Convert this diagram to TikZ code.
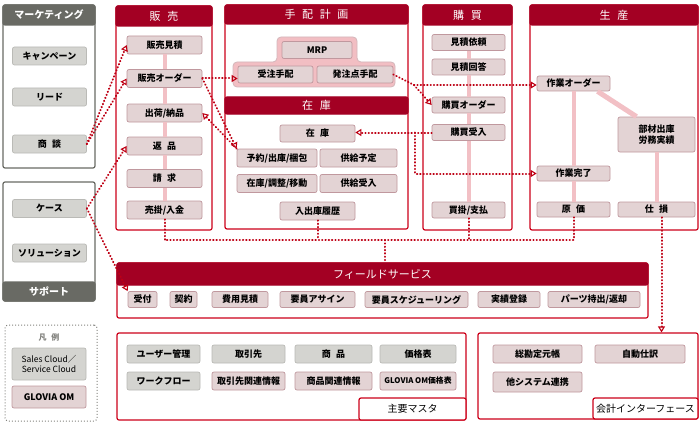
\documentclass[tikz,border=0pt]{standalone}
\usepackage{fontspec}
\setmainfont{Noto Sans CJK JP}
\usetikzlibrary{positioning, arrows.meta, calc}
\definecolor{headred}{RGB}{163, 0, 35}
\definecolor{linered}{RGB}{204, 0, 25}
\definecolor{dotred}{RGB}{190, 0, 20}
\definecolor{headgray}{RGB}{105, 106, 100}
\definecolor{gfill}{RGB}{212, 212, 208}
\definecolor{gline}{RGB}{186, 186, 182}
\definecolor{pfill}{RGB}{227, 211, 212}
\definecolor{pline}{RGB}{192, 152, 158}
\definecolor{flowpink}{RGB}{242, 192, 197}
\definecolor{mrppink}{RGB}{242, 190, 195}
\definecolor{legendgray}{RGB}{130, 130, 126}
\newcommand{\kspace}{\hspace{0.6em}}
\tikzset{
  panel/.style={
    draw=linered,
    line width=1.2pt,
    fill=white,
    rounded corners=2pt,
    inner sep=0pt
  },
  gpanel/.style={
    panel,
    draw=headgray
  },
  head/.style={
    draw=headred,
    fill=headred,
    line width=1.2pt,
    rounded corners=2pt,
    minimum height=20,
    inner sep=0pt,
    text=white,
    font=\fontsize{11}{13}\selectfont
  },
  ghead/.style={
    head,
    draw=headgray,
    fill=headgray,
    font=\bfseries\fontsize{10}{12}\selectfont
  },
  gbox/.style={
    draw=gline,
    fill=gfill,
    line width=0.7pt,
    rounded corners=2pt,
    minimum width=74,
    minimum height=18,
    inner sep=1pt,
    font=\bfseries\fontsize{9}{10.5}\selectfont
  },
  pbox/.style={
    gbox,
    draw=pline,
    fill=pfill
  },
  tabbox/.style={
    draw=linered,
    line width=1.2pt,
    fill=white,
    rounded corners=2pt,
    inner sep=0pt,
    font=\fontsize{10}{12}\selectfont
  },
  flow/.style={
    draw=flowpink,
    line width=4pt
  },
  dotlink/.style={
    draw=dotred,
    line width=2pt,
    line cap=round,
    dash pattern=on 0.4pt off 2.9pt
  },
  dotarrow/.style={
    dotlink,
    -{Triangle[open, length=6pt, width=7pt, line width=1.1pt]}
  }
}

\begin{document}
\begin{tikzpicture}[x=1pt, y=-1pt]
  \useasboundingbox (0,0) rectangle (700,433);

  % marketing / support / legend
  \node[gpanel, minimum width=92, minimum height=163] (mkt) at (49,86.5) {};
  \node[ghead, minimum width=92, anchor=north] (mkthd) at (mkt.north) {マーケティング};
  \node[gbox] (campaign) at (49.5,56) {キャンペーン};
  \node[gbox] (lead) at (49.5,97) {リード};
  \node[gbox] (shodan) at (49.5,144) {商\kspace 談};

  \node[gpanel, minimum width=92, minimum height=119] (sup) at (49,241.5) {};
  \node[ghead, minimum width=92, minimum height=19, anchor=south] (suphd) at (sup.south) {サポート};
  \node[gbox] (case) at (49.5,208.5) {ケース};
  \node[gbox] (solution) at (49.5,253) {ソリューション};

  \node[draw=legendgray, dotted, line width=1pt, rounded corners=3pt, minimum width=92, minimum height=96] (legend) at (51,373) {};
  \node[text=legendgray, font=\bfseries\fontsize{8}{9}\selectfont] (legendhd) at (49,337) {凡\kspace 例};
  \node[gbox, minimum height=32, align=center, font=\fontsize{8.5}{10}\selectfont] (sfdc) at (49,364) {Sales Cloud／\\Service Cloud};
  \node[pbox, minimum height=22] (glovia) at (49,397) {GLOVIA OM};

  % sales
  \node[panel, minimum width=96, minimum height=224] (sales) at (164,118) {};
  \node[head, minimum width=96, anchor=north] (saleshd) at (sales.north) {販\kspace 売};
  \node[pbox, minimum width=75] (mitsumori) at (164.5,45) {販売見積};
  \node[pbox, minimum width=75] (sorder) at (164.5,78.5) {販売オーダー};
  \node[pbox, minimum width=75] (shukka) at (164.5,113) {出荷/納品};
  \node[pbox, minimum width=75] (henpin) at (164.5,146) {返\kspace 品};
  \node[pbox, minimum width=75] (seikyu) at (164.5,178.5) {請\kspace 求};
  \node[pbox, minimum width=75] (urikake) at (164.5,210) {売掛/入金};

  % planning and stock
  \node[panel, minimum width=183, minimum height=224] (plan) at (316.5,117) {};
  \node[head, minimum width=183, minimum height=19, anchor=north] (planhd) at (plan.north) {手\kspace 配\kspace 計\kspace 画};
  \node[head, minimum width=183, minimum height=17] (stockhd) at (316.5,105.5) {在\kspace 庫};
  \draw[fill=mrppink, draw=pline!70, line width=0.8pt, rounded corners=4pt]
    (277,37) -- (357,37) -- (357,62) -- (395,62) -- (395,87) -- (233,87) -- (233,62) -- (277,62) -- cycle;
  \node[pbox, minimum width=70, minimum height=17] (mrp) at (317,50) {MRP};
  \node[pbox, minimum width=75, minimum height=17] (juchu) at (275.5,74.5) {受注手配};
  \node[pbox, minimum width=76, minimum height=17] (hatchu) at (355,74.5) {発注点手配};
  \node[pbox, minimum width=75, minimum height=17] (zaiko) at (317.5,133.5) {在\kspace 庫};
  \node[pbox, minimum width=80] (yoyaku) at (277,158) {予約/出庫/梱包};
  \node[pbox, minimum width=77] (yotei) at (358.5,158) {供給予定};
  \node[pbox, minimum width=80] (chosei) at (277,183.5) {在庫/調整/移動};
  \node[pbox, minimum width=77] (ukeire) at (358.5,183.5) {供給受入};
  \node[pbox, minimum width=75] (rireki) at (317.5,211) {入出庫履歴};

  % purchasing
  \node[panel, minimum width=89, minimum height=225] (purch) at (467.5,117.5) {};
  \node[head, minimum width=89, anchor=north] (purchhd) at (purch.north) {購\kspace 買};
  \node[pbox, minimum width=73, minimum height=16] (irai) at (468.5,42.5) {見積依頼};
  \node[pbox, minimum width=73, minimum height=16] (kaito) at (468.5,67) {見積回答};
  \node[pbox, minimum width=73, minimum height=16] (porder) at (468.5,105) {購買オーダー};
  \node[pbox, minimum width=73, minimum height=16] (pukeire) at (468.5,132.5) {購買受入};
  \node[pbox, minimum width=73, minimum height=16] (kaikake) at (468.5,210) {買掛/支払};

  % production
  \node[panel, minimum width=168, minimum height=225] (prod) at (614,117.5) {};
  \node[head, minimum width=168, anchor=north] (prodhd) at (prod.north) {生\kspace 産};
  \node[pbox, minimum width=73, minimum height=15] (worder) at (573.5,83.5) {作業オーダー};
  \node[pbox, minimum width=73, minimum height=15] (kanryo) at (573.5,173.5) {作業完了};
  \node[pbox, minimum width=73, minimum height=15] (genka) at (573.5,209.5) {原\kspace 価};
  \node[pbox, minimum width=77, minimum height=35, align=center] (buzai) at (656.5,134.5) {部材出庫\\労務実績};
  \node[pbox, minimum width=77, minimum height=15] (shison) at (656.5,209.5) {仕\kspace 損};

  % field service
  \node[panel, minimum width=531, minimum height=55] (fs) at (382.5,290.5) {};
  \node[head, minimum width=531, minimum height=22, anchor=north] (fshd) at (fs.north) {フィールドサービス};
  \node[pbox, minimum width=29, minimum height=16] (uketsuke) at (142.5,299.5) {受付};
  \node[pbox, minimum width=27, minimum height=16] (keiyaku) at (183.5,299.5) {契約};
  \node[pbox, minimum width=56, minimum height=16] (hiyo) at (240,299.5) {費用見積};
  \node[pbox, minimum width=75, minimum height=16] (assign) at (317.5,299.5) {要員アサイン};
  \node[pbox, minimum width=103, minimum height=16] (sched) at (416.5,299.5) {要員スケジューリング};
  \node[pbox, minimum width=62, minimum height=16] (jisseki) at (509,299.5) {実績登録};
  \node[pbox, minimum width=92, minimum height=16] (parts) at (594,299.5) {パーツ持出/返却};

  % master data
  \node[panel, minimum width=349, minimum height=87] (master) at (291.5,376.5) {};
  \node[tabbox, minimum width=107, minimum height=22, anchor=south east] (masterhd) at (master.south east) {主要マスタ};
  \node[gbox, minimum width=73] (user) at (163.5,354) {ユーザー管理};
  \node[gbox, minimum width=73] (torihiki) at (248.5,354) {取引先};
  \node[gbox, minimum width=77] (shohin) at (333.5,354) {商\kspace 品};
  \node[gbox, minimum width=76] (kakaku) at (418,354) {価格表};
  \node[gbox, minimum width=73] (workflow) at (163.5,381) {ワークフロー};
  \node[pbox, minimum width=73] (torijoho) at (248.5,381) {取引先関連情報};
  \node[pbox, minimum width=77] (shojoho) at (333.5,381) {商品関連情報};
  \node[pbox, minimum width=76, font=\bfseries\fontsize{7.8}{9}\selectfont] (okakaku) at (418,381) {GLOVIA OM価格表};

  % accounting
  \node[panel, minimum width=220, minimum height=86] (acct) at (588,376) {};
  \node[tabbox, minimum width=105, minimum height=21, anchor=south east] (accthd) at (acct.south east) {会計インターフェース};
  \node[pbox, minimum width=89] (motocho) at (537.5,354) {総勘定元帳};
  \node[pbox, minimum width=90] (shiwake) at (640,354) {自動仕訳};
  \node[pbox, minimum width=89, minimum height=20] (renkei) at (537.5,382) {他システム連携};

  % flows inside panels
  \foreach \a/\b in {mitsumori/sorder, sorder/shukka, shukka/henpin, henpin/seikyu, seikyu/urikake,
                     irai/kaito, kaito/porder, porder/pukeire, pukeire/kaikake,
                     worder/kanryo, kanryo/genka, buzai/shison}
    \draw[flow] (\a.south) -- (\b.north);
  \draw[flow, line width=5pt] ([xshift=24pt]worder.south) -- ([xshift=-20pt]buzai.north);

  % dotted links
  \coordinate (hj) at (414,85);
  \coordinate (rj) at (415,132.5);
  \coordinate (bus) at (385,240);
  \draw[dotarrow] (shodan.east) -- (mitsumori.west);
  \draw[dotarrow] (shodan.east) -- (sorder.west);
  \draw[dotarrow] (case.east) -- (henpin.west);
  \draw[dotarrow] (case.east) -- (uketsuke.north west);
  \draw[dotarrow] (sorder.east) -- (sorder.east -| juchu.west);
  \draw[dotarrow] (sorder.east) -- (yoyaku.north west);
  \draw[dotarrow] (yoyaku.north west) -- (shukka.east);
  \draw[dotlink] (hatchu.east) -- (hj);
  \draw[dotarrow] (hj) -- (hj -| worder.west);
  \draw[dotarrow] (hj) -- (porder.west);
  \draw[dotarrow] (pukeire.west) -- (pukeire.west -| zaiko.east);
  \draw[dotarrow] (rj) |- (kanryo.west);
  \draw[dotlink] (urikake.south) |- (genka.south |- bus) -- (genka.south);
  \draw[dotlink] (rireki.south) -- (rireki.south |- bus);
  \draw[dotlink] (kaikake.south) -- (kaikake.south |- bus);
  \draw[dotlink] (bus) -- (bus |- fs.north);
  \draw[dotarrow] ([xshift=5pt]shison.south) -- ([xshift=5pt]shison.south |- acct.north);
\end{tikzpicture}
\end{document}
